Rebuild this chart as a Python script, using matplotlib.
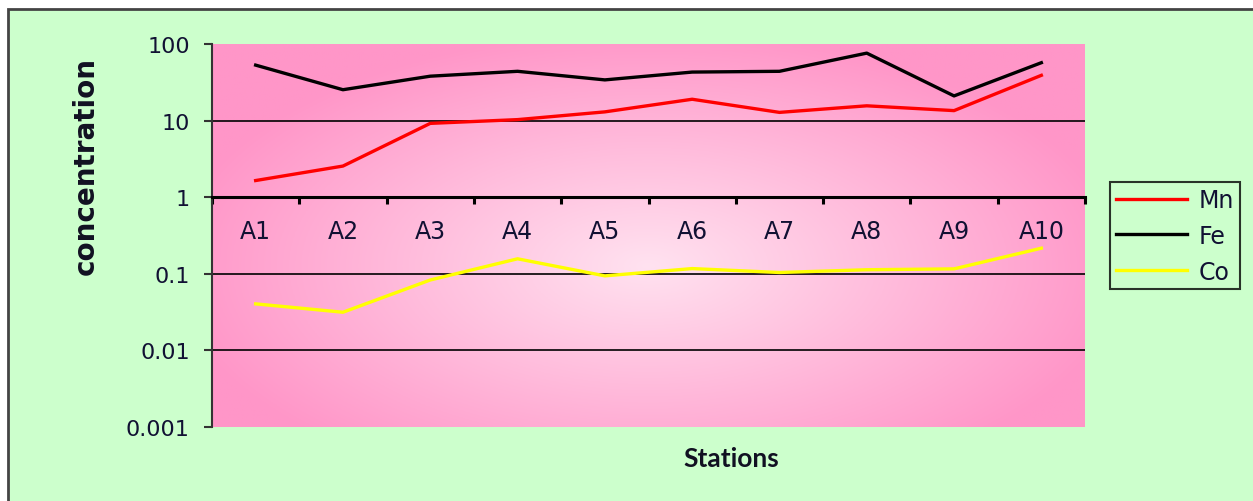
import numpy as np
from matplotlib import pyplot as plt
from matplotlib.patches import Rectangle

stations = ['A1', 'A2', 'A3', 'A4', 'A5', 'A6', 'A7', 'A8', 'A9', 'A10']
mn = [1.65, 2.55, 9.2, 10.3, 13.0, 19.0, 12.8, 15.6, 13.5, 39.0]
fe = [53, 25.3, 38, 44, 34, 43, 44, 76, 21, 57]
co = [0.0405, 0.0315, 0.083, 0.157, 0.094, 0.117, 0.104, 0.113, 0.116, 0.216]

W, H = 1253, 502
fig = plt.figure(figsize=(W / 100, H / 100), dpi=100)
fig.patch.set_facecolor('white')

# green chart area with dark border on top and left
fig.patches.append(Rectangle((8 / W, -0.05), 1.1, 1 - 10 / H + 0.05,
                             transform=fig.transFigure, facecolor='#ccffcc',
                             edgecolor='#444444', linewidth=2, zorder=-10))

ax = fig.add_axes([212 / W, 1 - 428 / H, (1085 - 212) / W, (428 - 45) / H])
ax.set_facecolor('none')

# radial pink gradient for plot area
gx, gy = np.meshgrid(np.linspace(0, 1, 400), np.linspace(0, 1, 200))
r = np.sqrt(((gx - 0.5) / 0.55) ** 2 + ((gy - 0.42) / 0.62) ** 2)
r = np.clip(r, 0, 1)
c_in = np.array([255, 226, 240]) / 255
c_out = np.array([255, 150, 200]) / 255
img = c_in[None, None, :] * (1 - r[..., None]) + c_out[None, None, :] * r[..., None]
ax.imshow(img, extent=[0, 1, 0, 1], transform=ax.transAxes, aspect='auto',
          origin='lower', zorder=0)

x = np.arange(len(stations))
ax.set_yscale('log')
for v in [0.01, 0.1, 10]:
    ax.axhline(v, color='black', lw=1.2, zorder=1)

ax.plot(x, mn, color='#ff0000', lw=2.4, label='Mn', zorder=3)
ax.plot(x, fe, color='black', lw=2.4, label='Fe', zorder=3)
ax.plot(x, co, color='#ffff00', lw=2.4, label='Co', zorder=3)

ax.set_xlim(-0.5, len(stations) - 0.5)
ax.set_ylim(0.001, 100)

ax.spines['top'].set_visible(False)
ax.spines['right'].set_visible(False)
ax.spines['bottom'].set_position(('data', 1))
ax.spines['bottom'].set_linewidth(2.2)
ax.spines['bottom'].set_zorder(4)
ax.spines['left'].set_color('#333333')
ax.spines['left'].set_linewidth(1.5)

ax.set_yticks([0.001, 0.01, 0.1, 1, 10, 100])
ax.set_yticklabels(['0.001', '0.01', '0.1', '1', '10', '100'])
ax.yaxis.set_minor_locator(plt.NullLocator())
ax.tick_params(axis='y', direction='out', length=6, width=1.5, color='#333333',
               labelsize=16, pad=10, labelcolor='#111133')

ax.set_xticks(np.arange(-0.5, len(stations), 1))
ax.set_xticklabels([])
ax.tick_params(axis='x', which='major', direction='out', length=5, width=2.2)
ax.set_xticks(x, minor=True)
ax.set_xticklabels(stations, minor=True)
ax.tick_params(axis='x', which='minor', length=0, labelsize=17, pad=16,
               labelcolor='#111133')

fig.text(86 / W, 1 - 166 / H, 'concentration', rotation=90, fontsize=20,
         fontweight='bold', ha='center', va='center', color='#111122')
fig.text(731 / W, 1 - 459 / H, 'Stations', fontsize=19, fontweight='bold',
         family='Lato', ha='center', va='center', color='#111122')

leg = ax.legend(loc='upper left', bbox_to_anchor=(1110 / W, 1 - 183 / H),
                bbox_transform=fig.transFigure, frameon=True, fancybox=False,
                fontsize=17, handlelength=3.0, labelspacing=0.5,
                borderpad=0.25, handletextpad=0.5, borderaxespad=0)
leg.get_frame().set_edgecolor('black')
leg.get_frame().set_linewidth(1.5)
leg.get_frame().set_facecolor('none')
for t in leg.get_texts():
    t.set_color('#111133')

plt.savefig('out.png', dpi=100)
